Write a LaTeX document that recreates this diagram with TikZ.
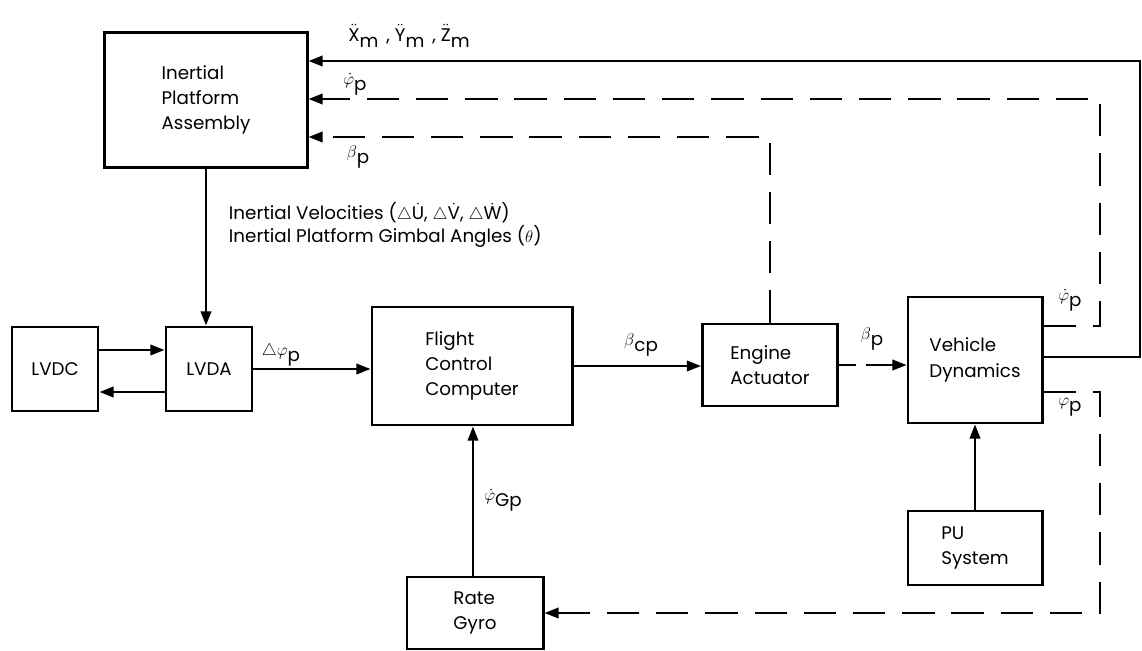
\documentclass[tikz,border=0pt]{standalone}
\usepackage{amsmath, amssymb}
\usepackage{fontspec}
\setmainfont{Poppins}
\usetikzlibrary{arrows.meta}

\newcommand{\lowsub}[2]{#1\raisebox{-0.6ex}{#2}}

\begin{document}
\begin{tikzpicture}[x=0.025cm, y=-0.025cm, font=\fontsize{13}{18}\selectfont,
    blk/.style={draw, line width=2.1pt, align=left, inner sep=0pt},
    sig/.style={line width=1.4pt, -{Triangle[length=10pt,width=7.5pt]}},
    fb/.style={sig, dash pattern=on 23pt off 12pt}]
  \useasboundingbox (0,0) rectangle (1142,650);

  % Blocks
  \node[blk, minimum width=5.05cm, minimum height=3.375cm] (ipa) at (206,100) {Inertial\\Platform\\Assembly};
  \node[blk, minimum width=2.15cm, minimum height=2.1cm] (lvdc) at (55,369) {LVDC};
  \node[blk, minimum width=2.15cm, minimum height=2.1cm] (lvda) at (209,369) {LVDA};
  \node[blk, minimum width=5cm, minimum height=2.95cm] (fcc) at (472,366) {Flight\\Control\\Computer};
  \node[blk, minimum width=3.375cm, minimum height=2.05cm] (ea) at (770,365) {Engine\\Actuator};
  \node[blk, minimum width=3.35cm, minimum height=3.15cm] (vd) at (975,360) {Vehicle\\Dynamics};
  \node[blk, minimum width=3.35cm, minimum height=1.85cm] (pu) at (975,548) {PU\\System};
  \node[blk, minimum width=3.4cm, minimum height=1.8cm] (rg) at (475,613) {Rate\\Gyro};

  % Feedback corners
  \coordinate (c1) at (1140,61);
  \coordinate (c2) at (1100,99);
  \coordinate (c3) at (1100,613);

  % Signals
  \draw[sig] (ipa.south) -- (ipa.south |- lvda.north);
  \draw[sig] (lvdc.east |- 0,350) -- (lvda.west |- 0,350);
  \draw[sig] (lvda.west |- 0,392) -- (lvdc.east |- 0,392);
  \draw[sig] (lvda.east) -- (lvda.east -| fcc.west);
  \draw[sig] (fcc.east) -- (fcc.east -| ea.west);
  \draw[sig, dash pattern=on 12pt off 7pt on 60pt] (ea.east) -- (ea.east -| vd.west);
  \draw[sig] (pu.north) -- (vd.south);
  \draw[sig] (rg.north -| 473,0) -- (fcc.south -| 473,0);
  \draw[sig] (vd.east |- 0,357) -| (c1) -- (ipa.east |- c1);
  \draw[fb] (vd.east |- 0,326) -| (c2) -- (ipa.east |- c2);
  \draw[fb] (ea.north) |- (ipa.east |- 0,137);
  \draw[fb] (vd.east |- 0,392) -| (c3) -- (rg.east |- c3);

  % Labels
  \node (acc) at (409,36) {\lowsub{$\ddot{\text{X}}$}{m}\, , \lowsub{$\ddot{\text{Y}}$}{m}\, , \lowsub{$\ddot{\text{Z}}$}{m}};
  \node (phidot1) at (355,84) {\lowsub{$\dot\varphi$}{p}};
  \node (beta1) at (358,157) {\lowsub{$\beta$}{p}};
  \node[anchor=west, align=left, font=\fontsize{13}{16}\selectfont] (vel) at (224,225)
    {Inertial Velocities ($\triangle\dot{\text{U}}$, $\triangle\dot{\text{V}}$, $\triangle\dot{\text{W}}$)\\
     Inertial Platform Gimbal Angles ($\theta$)};
  \node (dphi) at (281,355) {\lowsub{$\triangle\varphi$}{p}};
  \node (betacp) at (641,345) {\lowsub{$\beta$}{cp}};
  \node (beta2) at (872,339) {\lowsub{$\beta$}{p}};
  \node (phidot2) at (1070,300) {\lowsub{$\dot\varphi$}{p}};
  \node (phi) at (1070,407) {\lowsub{$\varphi$}{p}};
  \node (phigp) at (503,500) {\lowsub{$\dot\varphi$}{Gp}};
\end{tikzpicture}
\end{document}
